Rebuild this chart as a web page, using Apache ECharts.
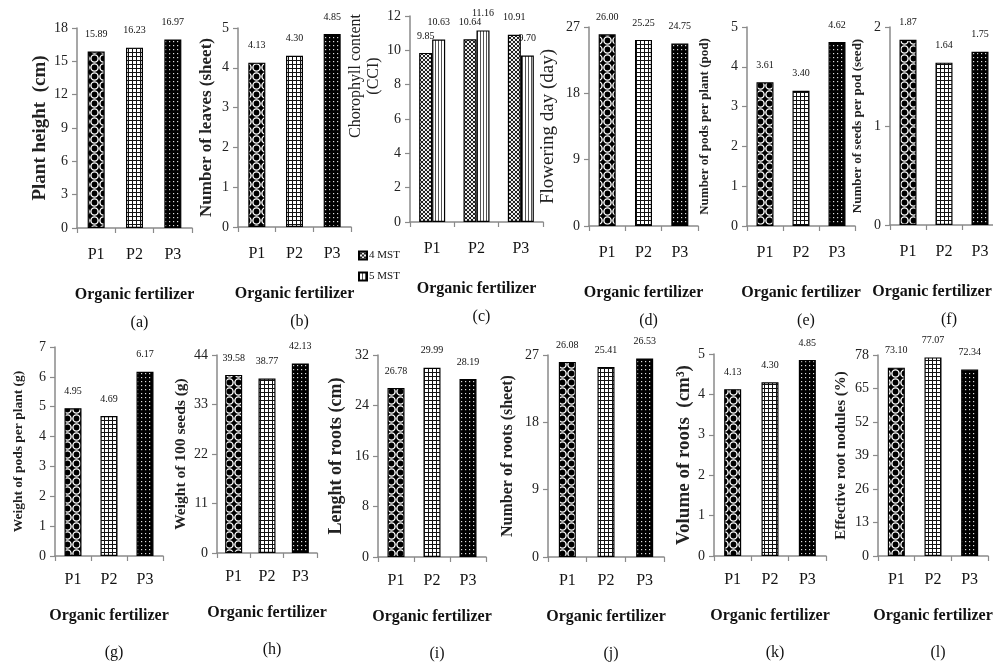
<!DOCTYPE html>
<html><head><meta charset="utf-8">
<script src="https://cdn.jsdelivr.net/npm/echarts@6/dist/echarts.min.js"></script>
<style>html,body{margin:0;padding:0;background:#fff}#c{width:993px;height:663px}</style>
</head><body><div id="c"></div>
<script>
// ---------- data ----------
const categories = ['P1', 'P2', 'P3'];
const plantHeight = [15.89, 16.23, 16.97];
const leaves = [4.13, 4.30, 4.85];
const chl4MST = [9.85, 10.64, 10.91];
const chl5MST = [10.63, 11.16, 9.70];
const flowering = [26.00, 25.25, 24.75];
const podsPerPlant = [3.61, 3.40, 4.62];
const seedsPerPod = [1.87, 1.64, 1.75];
const podWeight = [4.95, 4.69, 6.17];
const seedWeight = [39.58, 38.77, 42.13];
const rootLength = [26.78, 29.99, 28.19];
const rootNumber = [26.08, 25.41, 26.53];
const rootVolume = [4.13, 4.30, 4.85];
const nodules = [73.10, 77.07, 72.34];
const legendNames = ['4 MST', '5 MST'];
const panelLetters = ['(a)','(b)','(c)','(d)','(e)','(f)','(g)','(h)','(i)','(j)','(k)','(l)'];
const yMax = [18, 5, 12, 27, 5, 2, 7, 44, 32, 27, 5, 78];
const yStep = [3, 1, 2, 9, 1, 1, 1, 11, 8, 9, 1, 13];
const yNames = ['Plant height  (cm)', 'Number of leaves (sheet)', 'Chorophyll content\n(CCI)',
  'Flowering day (day)', 'Number of pods per plant (pod)', 'Number of seeds per pod (seed)',
  'Weight of pods per plant (g)', 'Weight of 100 seeds (g)', 'Lenght of roots (cm)',
  'Number of roots (sheet)', 'Volume of roots  (cm\u00B3)', 'Effective root nodules (%)'];
const xName = 'Organic fertilizer';
const singleSeries = [plantHeight, leaves, null, flowering, podsPerPlant, seedsPerPod,
  podWeight, seedWeight, rootLength, rootNumber, rootVolume, nodules];

// ---------- layout / style ----------
const layout = [
  {l: 77, w: 115, t: 28, h: 200, ng: 24, ns: 19, nb: 'bold'},
  {l: 238, w: 113, t: 28, h: 199, ng: 22, ns: 17, nb: 'bold'},
  {l: 410, w: 133, t: 16, h: 206, ng: 24, ns: 16, nb: 'normal', pad: [0, 0, 0, 86]},
  {l: 589, w: 109, t: 27, h: 199, ng: 30, ns: 19, nb: 'normal'},
  {l: 747, w: 108, t: 27, h: 199, ng: 35, ns: 13, nb: 'bold'},
  {l: 890, w: 108, t: 27, h: 198, ng: 25, ns: 13, nb: 'bold', xpad: [0, 24, 0, 0]},
  {l: 55, w: 108, t: 347, h: 209, ng: 29, ns: 13.5, nb: 'bold'},
  {l: 217, w: 100, t: 355, h: 198, ng: 23, ns: 15.5, nb: 'bold'},
  {l: 378, w: 108, t: 355, h: 202, ng: 32, ns: 18, nb: 'bold'},
  {l: 548, w: 116, t: 355, h: 202, ng: 31, ns: 16, nb: 'bold'},
  {l: 714, w: 112, t: 354, h: 202, ng: 18, ns: 19, nb: 'bold'},
  {l: 878, w: 110, t: 355, h: 201, ng: 28, ns: 15, nb: 'bold'}
];
const FONT = 'Liberation Serif';

function makePattern(w, h, draw) {
  const c = document.createElement('canvas');
  c.width = w; c.height = h;
  const ctx = c.getContext('2d');
  draw(ctx, w, h);
  return {image: c, repeat: 'repeat'};
}
const patCircles = makePattern(9, 9, (g, w, h) => {
  g.fillStyle = '#000'; g.fillRect(0, 0, w, h);
  g.strokeStyle = '#fff'; g.lineWidth = 1.4;
  g.beginPath(); g.arc(4.5, 4.5, 3.6, 0, Math.PI * 2); g.stroke();
});
const patGrid = makePattern(4, 4, (g, w, h) => {
  g.fillStyle = '#fff'; g.fillRect(0, 0, w, h);
  g.fillStyle = '#111'; g.fillRect(0, 0, w, 1); g.fillRect(0, 0, 1, h);
});
const patDots = makePattern(4, 4, (g, w, h) => {
  g.fillStyle = '#000'; g.fillRect(0, 0, w, h);
  g.fillStyle = '#ddd'; g.fillRect(1, 1, 1.2, 1.2);
});
const patCross = makePattern(4, 4, (g, w, h) => {
  g.fillStyle = '#eee'; g.fillRect(0, 0, w, h);
  g.strokeStyle = '#222'; g.lineWidth = 1;
  g.beginPath(); g.moveTo(0, 0); g.lineTo(4, 4); g.moveTo(4, 0); g.lineTo(0, 4); g.stroke();
});
const patStripes = makePattern(3, 4, (g, w, h) => {
  g.fillStyle = '#fff'; g.fillRect(0, 0, w, h);
  g.fillStyle = '#555'; g.fillRect(0, 0, 1, h);
});
const barPatterns = [patCircles, patGrid, patDots];

const grids = [], xAxes = [], yAxes = [], series = [], titles = [];
layout.forEach((L, i) => {
  const top = i < 6;
  grids.push({left: L.l, top: L.t, width: L.w, height: L.h, containLabel: false, outerBoundsMode: 'none'});
  const xts = {fontFamily: FONT, fontSize: 16, fontWeight: 'bold', color: '#111'};
  if (L.xpad) xts.padding = L.xpad;
  xAxes.push({
    type: 'category', gridIndex: i, data: categories,
    axisLine: {lineStyle: {color: '#8a8a8a', width: 1.5}},
    axisTick: {show: true, length: 5, lineStyle: {color: '#8a8a8a', width: 1.2}},
    axisLabel: {fontFamily: FONT, fontSize: 16, color: '#111', margin: top ? 19 : 16},
    name: xName, nameLocation: 'middle', nameGap: top ? 59 : 52,
    nameTextStyle: xts
  });
  const nts = {fontFamily: FONT, fontSize: L.ns, fontWeight: L.nb, color: '#222', lineHeight: L.ns + 2};
  if (L.pad) nts.padding = L.pad;
  yAxes.push({
    type: 'value', gridIndex: i, min: 0, max: yMax[i], interval: yStep[i],
    splitLine: {show: false},
    axisLine: {show: true, lineStyle: {color: '#8a8a8a', width: 1.5}},
    axisTick: {show: true, length: 5, lineStyle: {color: '#8a8a8a', width: 1.2}},
    axisLabel: {fontFamily: FONT, fontSize: 14, color: '#222', margin: 9},
    name: yNames[i], nameLocation: 'middle', nameRotate: 90, nameGap: L.ng,
    nameTextStyle: nts
  });
  titles.push({
    text: panelLetters[i], left: L.l + L.w / 2, top: L.t + L.h + (top ? 82 : 84),
    textAlign: 'center',
    textStyle: {fontFamily: FONT, fontSize: 16, fontWeight: 'normal', color: '#111'}
  });
  const lbl = {show: true, position: 'top', distance: 12, fontFamily: FONT, fontSize: 10, color: '#111',
    formatter: p => p.value.toFixed(2)};
  if (singleSeries[i]) {
    series.push({
      type: 'bar', xAxisIndex: i, yAxisIndex: i, barWidth: 17,
      itemStyle: {borderColor: '#000', borderWidth: 1.2},
      label: lbl,
      data: singleSeries[i].map((v, k) => ({value: v, itemStyle: {color: barPatterns[k]}}))
    });
  } else {
    [chl4MST, chl5MST].forEach((arr, s) => {
      series.push({
        type: 'bar', name: legendNames[s], xAxisIndex: i, yAxisIndex: i,
        barWidth: 13, barGap: '0%',
        itemStyle: {color: s === 0 ? patCross : patStripes, borderColor: '#000', borderWidth: 1.2},
        label: lbl, data: arr
      });
    });
  }
});

const chart = echarts.init(document.getElementById('c'));
chart.setOption({
  animation: false,
  backgroundColor: '#fff',
  title: titles,
  legend: {
    orient: 'vertical', left: 353, top: 245, itemWidth: 8, itemHeight: 8, itemGap: 10,
    icon: 'rect', data: legendNames,
    textStyle: {fontFamily: FONT, fontSize: 11, color: '#111', padding: [0, 0, 0, -3]}
  },
  grid: grids, xAxis: xAxes, yAxis: yAxes, series: series
});
</script></body></html>
